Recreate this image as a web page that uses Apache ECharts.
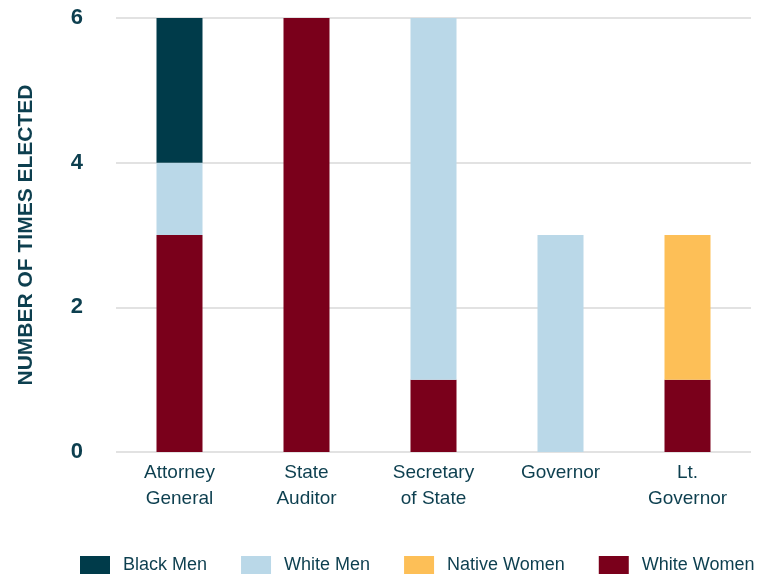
<!DOCTYPE html>
<html>
<head>
<meta charset="utf-8">
<script src="https://cdn.jsdelivr.net/npm/echarts@6/dist/echarts.min.js"></script>
<style>
  html, body { margin: 0; padding: 0; background: #fff; }
  #chart { width: 770px; height: 575px; }
</style>
</head>
<body>
<div id="chart"></div>
<script>
// Statewide offices and how many times each group has been elected to them
const offices = ['Attorney\nGeneral', 'State\nAuditor', 'Secretary\nof State', 'Governor', 'Lt.\nGovernor'];
const whiteWomen  = [3, 6, 1, 0, 1];
const whiteMen    = [1, 0, 5, 3, 0];
const nativeWomen = [0, 0, 0, 0, 2];
const blackMen    = [2, 0, 0, 0, 0];
const yTicks = [0, 2, 4, 6];

const textColor = '#0d3f4f';
const font = '"Liberation Sans", Arial, sans-serif';

function bar(name, data, color) {
  return {
    name: name,
    type: 'bar',
    stack: 'total',
    data: data,
    barWidth: 46,
    itemStyle: { color: color },
    emphasis: { disabled: true }
  };
}

const chart = echarts.init(document.getElementById('chart'), null, { renderer: 'canvas' });
chart.setOption({
  animation: false,
  textStyle: { fontFamily: font, color: textColor },
  grid: { left: 116, right: 19, top: 18, bottom: 123 },
  legend: {
    bottom: 1,
    left: 80,
    padding: 0,
    itemWidth: 30,
    itemHeight: 18,
    itemGap: 34,
    icon: 'rect',
    data: ['Black Men', 'White Men', 'Native Women', 'White Women'],
    textStyle: { fontFamily: font, fontSize: 18, color: textColor, padding: [0, 0, 0, 8] }
  },
  xAxis: {
    type: 'category',
    data: offices,
    axisLine: { show: false },
    axisTick: { show: false },
    axisLabel: {
      margin: 8,
      fontSize: 19,
      lineHeight: 26,
      color: textColor,
      fontFamily: font,
      verticalAlign: 'top'
    }
  },
  yAxis: {
    type: 'value',
    min: yTicks[0],
    max: yTicks[yTicks.length - 1],
    interval: 2,
    name: 'NUMBER OF TIMES ELECTED',
    nameLocation: 'middle',
    nameGap: 79,
    nameRotate: 90,
    nameTextStyle: { fontFamily: font, fontSize: 21, fontWeight: 'bold', color: textColor },
    axisLine: { show: false },
    axisTick: { show: false },
    splitLine: { lineStyle: { color: '#d9d9d9', width: 1.5 } },
    axisLabel: { margin: 33, fontSize: 22, fontWeight: 'bold', color: textColor, fontFamily: font }
  },
  series: [
    bar('White Women', whiteWomen, '#7a001b'),
    bar('White Men', whiteMen, '#bad8e8'),
    bar('Native Women', nativeWomen, '#fdbf57'),
    bar('Black Men', blackMen, '#003b4a')
  ]
});
</script>
</body>
</html>
